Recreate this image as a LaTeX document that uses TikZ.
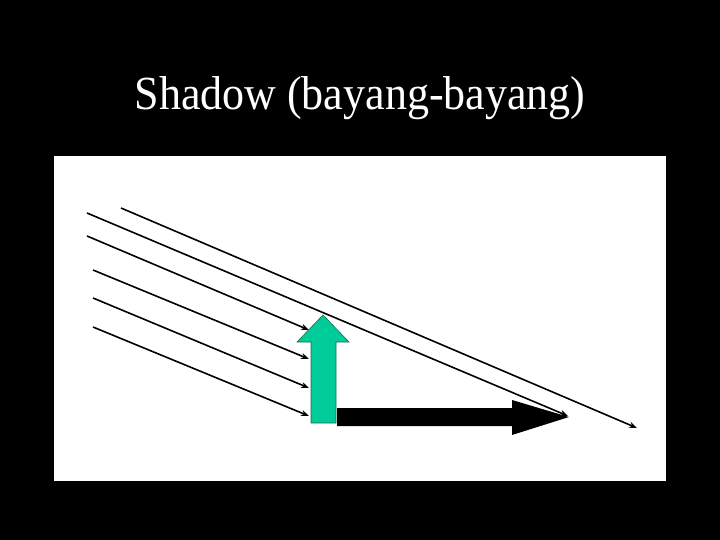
\documentclass[tikz,border=0pt]{standalone}
\usepackage{fontspec}
\setmainfont{Liberation Serif}
\usetikzlibrary{arrows.meta}
\definecolor{polegreen}{RGB}{0,204,153}
\definecolor{poleedge}{RGB}{20,110,80}
\tikzset{ray/.style={line width=1.6pt,-{Stealth[length=8pt,width=6pt]}}}

\begin{document}
\begin{tikzpicture}[x=1pt,y=-1pt]
            \fill[black] (0,0) rectangle (720,540);
            \fill[white] (54,156) rectangle (666,481);
            \node[white,anchor=base,yscale=1.08,font=\fontsize{44}{52}\selectfont] (title) at (360,110) {Shadow (bayang-bayang)};
            % object (green) and its shadow (black)
            \fill[polegreen,draw=poleedge,line width=0.6pt] (311,423) -- (311,342) -- (297,342) -- (323,315)
                -- (349,342) -- (336,342) -- (336,423) -- cycle;
            \fill[black] (337,408) -- (512,408) -- (512,400) -- (569,417) -- (512,435) -- (512,426) -- (337,426) -- cycle;
            % light rays
            \coordinate (a0) at (121,208); \coordinate (a1) at (637,428);
            \coordinate (b0) at (87,213);  \coordinate (b1) at (568,416);
            \coordinate (c0) at (87,236);  \coordinate (c1) at (309,330);
            \coordinate (d0) at (93,270);  \coordinate (d1) at (309,359);
            \coordinate (e0) at (93,298);  \coordinate (e1) at (309,388);
            \coordinate (f0) at (93,327);  \coordinate (f1) at (309,416);
            \foreach \r in {a,b,c,d,e,f}
                \draw[ray] (\r0) -- (\r1);
\end{tikzpicture}
\end{document}
